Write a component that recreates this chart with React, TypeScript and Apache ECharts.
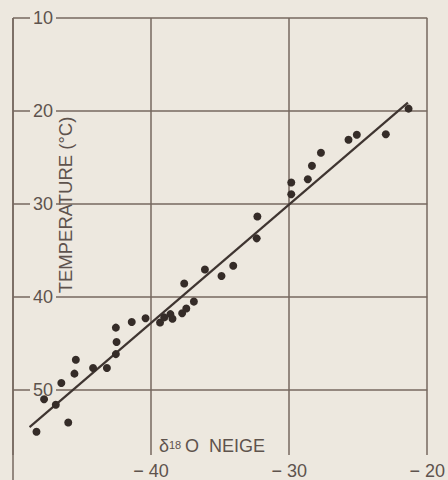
import React, { useEffect, useRef } from 'react';
import * as echarts from 'echarts';

// δ18O of snow (‰) and mean temperature (°C, shown as magnitude)
const deltaO18 = [-48.3, -47.75, -46.9, -46.0, -46.5, -45.55, -45.45, -44.2, -43.2, -42.55, -42.5, -42.55, -41.4, -40.4, -39.35, -39.05, -38.6, -38.45, -37.75, -37.45, -36.9, -37.6, -36.1, -34.9, -34.05, -32.35, -32.3, -29.85, -29.85, -28.65, -28.35, -27.7, -25.7, -25.1, -23.0, -21.35];
const temperature = [54.5, 51.0, 51.6, 53.5, 49.25, 48.25, 46.75, 47.65, 47.65, 46.15, 44.85, 43.3, 42.7, 42.3, 42.75, 42.2, 41.85, 42.35, 41.75, 41.25, 40.5, 38.55, 37.05, 37.75, 36.65, 33.7, 31.35, 28.95, 27.7, 27.35, 25.9, 24.5, 23.1, 22.55, 22.5, 19.75];

const fitX = [-48.8, -21.4];
const fitT = [54.0, 19.1];

const yTitle = 'TEMPERATURE (°C)';
const xTitleDelta = 'δ';
const xTitleSup = '18';
const xTitleRest = 'O  NEIGE';

const BG = '#ede8df';
const GRID = '#76695f';
const INK = '#5e534d';
const FONT = '"Liberation Sans", Arial, sans-serif';

export default function App() {
  const ref = useRef<HTMLDivElement>(null);
  useEffect(() => {
    document.body.style.margin = '0';
    document.body.style.background = BG;
    const chart = echarts.init(ref.current!, null, { renderer: 'svg' });
    const pts = deltaO18.map((x, i) => [x, temperature[i]]);
    const fit = fitX.map((x, i) => [x, fitT[i]]);
    chart.setOption({
      animation: false,
      backgroundColor: BG,
      grid: { left: 13, right: 18, top: 18, bottom: 22.5 },
      xAxis: {
        type: 'value',
        min: -50,
        max: -20,
        interval: 10,
        axisLine: { show: false },
        axisTick: { show: false },
        splitLine: { show: true, lineStyle: { color: GRID, width: 1.5 } },
        axisLabel: {
          margin: 7,
          color: INK,
          fontFamily: FONT,
          fontSize: 18,
          formatter: (v: number) => (v === -50 ? '' : '− ' + Math.abs(v)),
        },
      },
      yAxis: {
        type: 'value',
        inverse: true,
        min: 10,
        max: 57,
        interval: 10,
        axisLine: { show: false },
        axisTick: { show: false },
        splitLine: {
          show: true,
          lineStyle: { color: [GRID, GRID, GRID, GRID, GRID, 'rgba(0,0,0,0)'], width: 1.5 },
        },
        axisLabel: {
          inside: true,
          margin: 17,
          color: INK,
          fontFamily: FONT,
          fontSize: 18,
          backgroundColor: BG,
          padding: [0, 3],
          formatter: (v: number) => (v % 10 === 0 ? String(v) : ''),
        },
      },
      series: [
        {
          type: 'line',
          data: fit,
          showSymbol: false,
          lineStyle: { color: '#3f3531', width: 2.2 },
          z: 2,
        },
        {
          type: 'scatter',
          data: pts,
          symbolSize: 8,
          itemStyle: { color: '#352c28', opacity: 1 },
          z: 3,
        },
      ],
      graphic: [
        {
          type: 'line',
          shape: { x1: 13, y1: 18, x2: 13, y2: 480 },
          style: { stroke: GRID, lineWidth: 1.5 },
        },
        {
          type: 'text',
          x: 65,
          y: 205,
          rotation: Math.PI / 2,
          style: {
            text: yTitle,
            fill: INK,
            font: `18.5px ${FONT}`,
            align: 'center',
            verticalAlign: 'middle',
          },
        },
        {
          type: 'text',
          x: 159,
          y: 455,
          style: { text: xTitleDelta, fill: INK, font: `18px ${FONT}`, align: 'left', verticalAlign: 'bottom' },
        },
        {
          type: 'text',
          x: 169,
          y: 450,
          style: { text: xTitleSup, fill: INK, font: `11px ${FONT}`, align: 'left', verticalAlign: 'bottom' },
        },
        {
          type: 'text',
          x: 185,
          y: 455,
          style: { text: xTitleRest, fill: INK, font: `18px ${FONT}`, align: 'left', verticalAlign: 'bottom' },
        },
      ],
    });
    return () => chart.dispose();
  }, []);
  return <div ref={ref} style={{ position: 'fixed', left: 0, top: 0, width: 448, height: 480 }} />;
}
